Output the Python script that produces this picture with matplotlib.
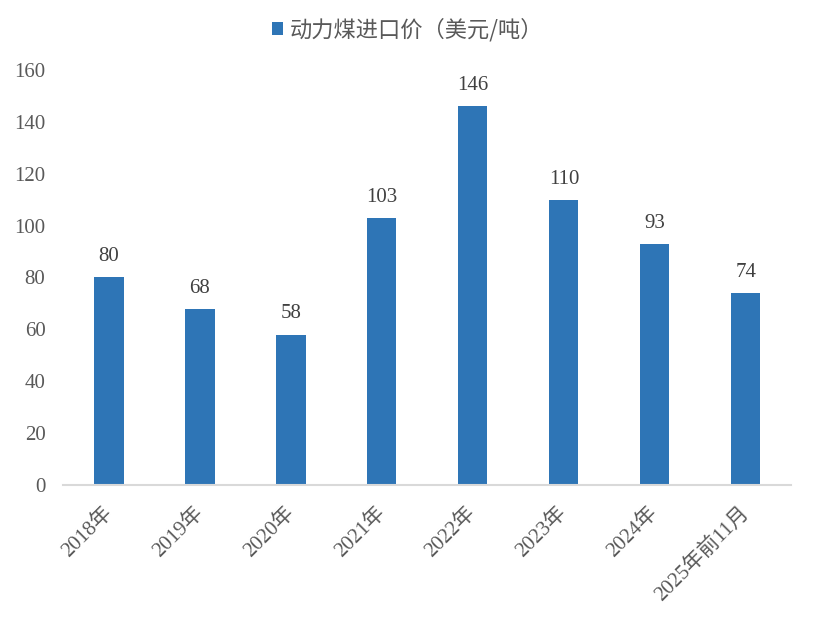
import matplotlib
matplotlib.use("Agg")
import matplotlib.pyplot as plt
from matplotlib.patches import Patch

categories = ["2018年", "2019年", "2020年", "2021年", "2022年", "2023年", "2024年", "2025年前11月"]
values = [80, 68, 58, 103, 146, 110, 93, 74]
yticks = [0, 20, 40, 60, 80, 100, 120, 140, 160]
series_name = "动力煤进口价（美元/吨）"

num_font = ["Liberation Serif", "Noto Sans CJK SC", "DejaVu Sans"]
cjk_font = ["Noto Sans CJK SC", "DejaVu Sans"]
bar_color = "#2E75B6"
text_color = "#595959"

fig = plt.figure(figsize=(8.16, 6.24), dpi=100)
ax = fig.add_axes([0.0778, 0.2228, 0.892, 0.665])

x = list(range(len(categories)))
bars = ax.bar(x, values, width=0.32, color=bar_color, zorder=2)

for xi, v in zip(x, values):
    ax.annotate(str(v), (xi, v), xytext=(0, 8), textcoords="offset points",
                ha="center", va="bottom", fontsize=15, color="#404040", family=num_font)

ax.set_xlim(-0.5, len(categories) - 0.5)
ax.set_ylim(0, 160)
ax.set_yticks(yticks)
ax.set_yticklabels([str(t) for t in yticks], family=num_font, fontsize=15, color=text_color)
ax.set_xticks(x)
ax.set_xticklabels(categories, rotation=45, ha="right", va="center", rotation_mode="anchor",
                   family=num_font, fontsize=15, color=text_color)
ax.tick_params(axis="x", length=0, pad=18)
ax.tick_params(axis="y", length=0, pad=13)

for s in ["top", "right", "left"]:
    ax.spines[s].set_visible(False)
ax.spines["bottom"].set_color("#D9D9D9")
ax.spines["bottom"].set_linewidth(1.5)
ax.spines["bottom"].set_zorder(3)

handle = Patch(facecolor=bar_color, edgecolor="none")
leg = fig.legend([handle], [series_name], loc="center", bbox_to_anchor=(0.5, 0.952),
                 frameon=False, handlelength=0.5, handleheight=0.5, handletextpad=0.3,
                 prop={"family": cjk_font, "size": 16})
for t in leg.get_texts():
    t.set_color(text_color)

fig.savefig("out.png", dpi=100, facecolor="white")
